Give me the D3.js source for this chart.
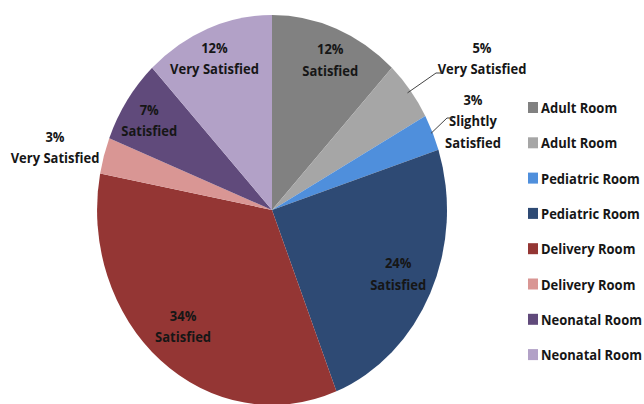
<!DOCTYPE html>
<html lang="en">
<head>
  <meta charset="UTF-8">
  <title>Satisfaction by room</title>
  <script src="https://d3js.org/d3.v7.min.js"></script>
  <style>
    body { margin: 0; background: #fff; }
    svg { font-family: "Open Sans", sans-serif; }
    .lbl { font-size: 13px; font-weight: 700; fill: #161616; }
    .leg { font-size: 13px; font-weight: 700; fill: #161616; }
  </style>
</head>
<body>
  <svg></svg>
  <script>
    const rooms = ['Adult Room', 'Adult Room', 'Pediatric Room', 'Pediatric Room',
                   'Delivery Room', 'Delivery Room', 'Neonatal Room', 'Neonatal Room'];
    const levels = ['Satisfied', 'Very Satisfied', 'Slightly Satisfied', 'Satisfied',
                    'Satisfied', 'Very Satisfied', 'Satisfied', 'Very Satisfied'];
    const shares = [12, 5, 3, 24, 34, 3, 7, 12];
    const colors = ['#818181', '#a6a6a6', '#4f8fdc', '#2e4a74',
                    '#943634', '#d99694', '#604a7b', '#b2a1c7'];
    // label lines per slice
    const labelLines = [
      ['12%', 'Satisfied'], ['5%', 'Very Satisfied'], ['3%', 'Slightly', 'Satisfied'],
      ['24%', 'Satisfied'], ['34%', 'Satisfied'], ['3%', 'Very Satisfied'],
      ['7%', 'Satisfied'], ['12%', 'Very Satisfied']
    ];

    const width = 644, height = 404;
    const cx = 272, cy = 210, rx = 175, ry = 195;
    const stretch = 1.12; // the source picture is a bit taller than wide

    const svg = d3.select('svg').attr('width', width).attr('height', height);

    const data = shares.map((v, i) => ({ i, room: rooms[i], level: levels[i], value: v }));
    const pie = d3.pie().sort(null).value(d => d.value);
    const arcs = pie(data);
    const arc = d3.arc().innerRadius(0).outerRadius(1);

    // pie drawn on a unit circle, stretched into the ellipse
    const g = svg.append('g')
      .attr('transform', `translate(${cx},${cy}) scale(${rx},${ry})`);
    g.selectAll('path')
      .data(arcs)
      .enter().append('path')
      .attr('d', arc)
      .attr('fill', d => colors[d.data.i]);

    const toXY = (ang, r) => [cx + Math.sin(ang) * rx * r, cy - Math.cos(ang) * ry * r];
    const mid = d => (d.startAngle + d.endAngle) / 2;

    // label positions: radius factor (inside or outside) plus fine offsets
    const labelPos = [
      { r: 0.78, dx: 8, dy: -9 },
      { r: 1.0, fixed: [482, 48] },
      { r: 1.0, fixed: [473, 100] },
      { r: 0.62, dx: 28, dy: 12 },
      { r: 0.6, dx: -22, dy: 26 },
      { r: 1.0, fixed: [55, 137] },
      { r: 0.8, dx: -7, dy: -2 },
      { r: 0.8, dx: -6, dy: -7 }
    ];

    arcs.forEach(d => {
      const p = labelPos[d.data.i];
      let x, y;
      if (p.fixed) {
        [x, y] = p.fixed;
      } else {
        [x, y] = toXY(mid(d), p.r);
        x += p.dx; y += p.dy - 10;
      }
      const t = svg.append('text').attr('class', 'lbl').attr('text-anchor', 'middle')
        .attr('transform', `translate(${x},${y}) scale(1,${stretch})`);
      labelLines[d.data.i].forEach((s, k) => {
        t.append('tspan').attr('x', 0).attr('y', (4 + k * 21.5) / stretch + 0.5).text(s);
      });
    });

    // leader lines for the two small right-hand slices
    const leader = (i, r, ex, ey) => {
      const [sx, sy] = toXY(mid(arcs[i]), r);
      svg.append('path')
        .attr('d', `M${sx},${sy}L${ex - 3},${ey}L${ex + 3},${ey}`)
        .attr('fill', 'none')
        .attr('stroke', '#444')
        .attr('stroke-width', 1);
    };
    leader(1, 0.98, 439, 73);
    leader(2, 0.99, 450, 118);

    // legend
    const leg = svg.append('g').attr('transform', 'translate(528,108)');
    const row = leg.selectAll('g')
      .data(data)
      .enter().append('g')
      .attr('transform', (d, i) => `translate(0,${i * 35.3})`);
    row.append('rect')
      .attr('x', 0).attr('y', -6)
      .attr('width', 10).attr('height', 11)
      .attr('fill', d => colors[d.i]);
    row.append('text')
      .attr('class', 'leg')
      .attr('transform', `translate(13,5) scale(1,${stretch})`)
      .text(d => d.room);
  </script>
</body>
</html>
